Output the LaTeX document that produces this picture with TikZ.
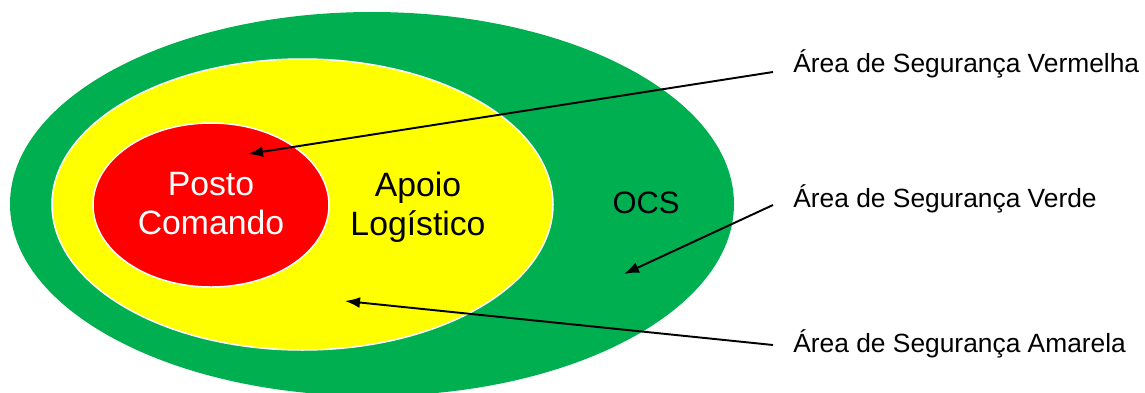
\documentclass[tikz,border=0pt]{standalone}
\usepackage{fontspec}
\setmainfont{Liberation Sans}
\usetikzlibrary{arrows.meta}
\definecolor{ocsgreen}{HTML}{00B050}
\definecolor{apoioyellow}{HTML}{FFFF00}
\definecolor{postored}{HTML}{FF0000}
\tikzset{
	zonetext/.style={align=center, font=\fontsize{19.2}{22.2}\selectfont},
	arealabel/.style={anchor=base west, inner xsep=0.4cm, inner ysep=0pt, font=\fontsize{15}{18}\selectfont},
	pointer/.style={line width=1.1pt, -{Latex[length=3mm,width=2.2mm]}}
}

\begin{document}
\begin{tikzpicture}[x=0.02cm, y=-0.02cm]
			%%%%% START %%%%%
			
			\useasboundingbox (0, 0) rectangle (1145, 392);
			
			\fill[ocsgreen] (372, 204) ellipse [x radius=362, y radius=192];
			\draw[fill=apoioyellow, draw=white, line width=0.85pt] (302.5, 204.5) ellipse [x radius=250.5, y radius=145.5];
			\draw[fill=postored, draw=white, line width=0.85pt] (211, 205) ellipse [x radius=118, y radius=82];
			
			\node[zonetext, text=white] (posto) at (211, 204) {Posto\\Comando};
			\node[zonetext] (apoio) at (418, 207) {Apoio\\Log\'istico};
			\node[zonetext, font=\fontsize{17.6}{21}\selectfont] (ocs) at (646, 202.5) {OCS};
			
			\coordinate (tipred) at (248, 154);
			\coordinate (tipgreen) at (624, 274);
			\coordinate (tipyellow) at (345, 301);
			
			\node[arealabel] (lblred) at (773, 72) {Área de Segurança Vermelha};
			\node[arealabel] (lblgreen) at (773, 207) {Área de Segurança Verde};
			\node[arealabel] (lblyellow) at (773, 352) {Área de Segurança Amarela};
			
			\draw[pointer] (lblred.base west) -- (tipred);
			\draw[pointer] ([yshift=0.04cm]lblgreen.base west) -- (tipgreen);
			\draw[pointer] ([yshift=0.14cm]lblyellow.base west) -- (tipyellow);
			
			%%%%% END %%%%%
		\end{tikzpicture}
\end{document}
